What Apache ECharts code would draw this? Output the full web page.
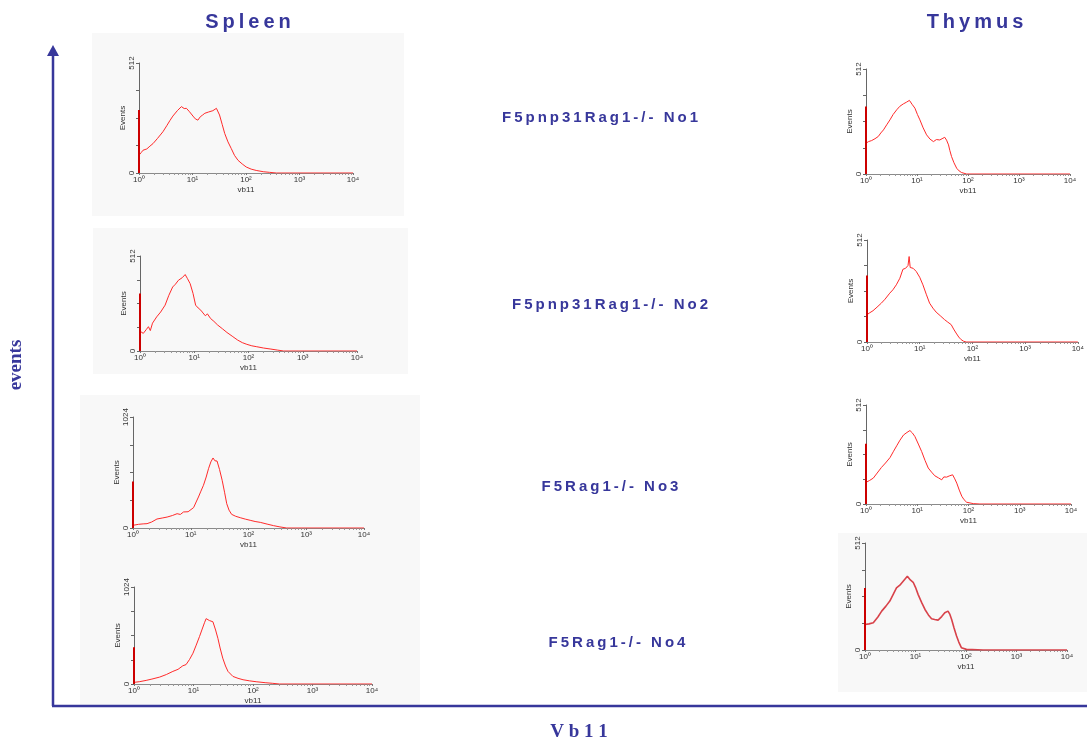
<!DOCTYPE html>
<html>
<head>
<meta charset="utf-8">
<script src="https://cdn.jsdelivr.net/npm/echarts@6/dist/echarts.min.js"></script>
<style>
  html, body { margin: 0; padding: 0; background: #fff; }
  #chart { width: 1087px; height: 744px; }
</style>
</head>
<body>
<div id="chart"></div>
<script>
// histogram traces: [vb11, events]
const spleenNo1 = [[1,83],[1.1,95],[1.19,106],[1.4,112],[1.6,125],[1.83,137],[2.2,160],[2.8,192],[3.3,220],[3.8,245],[4.3,265],[5.2,290],[6.2,309],[7.0,300],[7.7,301],[8.8,285],[10.2,265],[11.3,252],[12.6,246],[14,262],[15.5,270],[17,278],[20,284],[24,290],[28,301],[32,270],[36,225],[40,184],[46,145],[53,114],[61,82],[71,59],[85,42],[101,28],[125,18],[155,12],[210,6],[276,3],[370,0],[10000,0]]
const spleenNo2 = [[1,107],[1.08,98],[1.15,95],[1.3,115],[1.43,131],[1.55,110],[1.7,150],[2.03,184],[2.4,210],[2.9,247],[3.4,300],[4.0,345],[4.5,360],[5.1,381],[6.0,395],[6.8,412],[7.5,390],[8.4,363],[9.5,310],[10.6,247],[11.8,232],[13.2,220],[14.5,205],[16,190],[17.5,200],[20,175],[23,160],[27,140],[33,120],[40,100],[50,80],[63,59],[77,45],[93,36],[115,28],[142,23],[190,16],[250,11],[340,5],[445,0],[10000,0]]
const spleenNo3 = [[1,25],[1.25,34],[1.5,38],[1.75,40],[2.1,55],[2.6,83],[3.2,92],[3.9,101],[4.8,115],[5.8,132],[6.6,125],[7.5,148],[9,150],[11.2,188],[12.4,240],[13.6,286],[15,340],[16.6,394],[18.5,470],[20.3,547],[22.3,610],[24.3,646],[26.2,620],[28.5,618],[31.5,540],[35,440],[38.5,330],[42,224],[46,165],[51,126],[60,108],[72,95],[88,82],[107,71],[130,60],[160,52],[210,36],[270,22],[350,10],[460,0],[10000,0]]
const spleenNo4 = [[1,17],[1.25,25],[1.6,38],[2.0,52],[2.7,73],[3.5,100],[4.5,133],[4.8,150],[5.5,155],[6.6,192],[7.5,205],[8.6,260],[9.8,325],[11.1,410],[12.6,500],[14,580],[15.3,647],[16.3,690],[17.4,692],[18.5,670],[19.8,680],[21.2,657],[23.5,570],[25.7,482],[28,380],[31,273],[34.5,190],[38,133],[46,80],[56,60],[68,45],[88,33],[113,24],[160,14],[215,7],[278,0],[10000,0]]
const thymusNo1 = [[1,150],[1.12,158],[1.29,163],[1.5,172],[1.74,183],[1.95,200],[2.2,215],[2.55,240],[2.95,264],[3.4,290],[4.0,313],[4.6,330],[5.4,342],[6.2,350],[7.1,359],[8.0,340],[9.1,321],[10.2,290],[11.4,264],[13.2,225],[15.4,191],[18,170],[21,158],[24,168],[28,166],[31,172],[35,179],[38,165],[41.5,142],[44,115],[47.6,85],[53,55],[60,28],[67,15],[75,7],[94,0],[10000,0]]
const thymusNo2 = [[1,137],[1.1,145],[1.3,157],[1.55,175],[1.87,195],[2.2,215],[2.7,245],[3.1,262],[3.6,287],[4.2,320],[4.8,365],[5.4,370],[6.0,384],[6.3,429],[6.6,374],[7.5,370],[8.6,354],[10,325],[11.5,287],[13.3,240],[15.4,195],[17.8,170],[20.5,150],[24.5,132],[29.7,112],[34,100],[39.6,87],[44,65],[49,45],[55,25],[61,12],[68,4],[76,0],[10000,0]]
const thymusNo3 = [[1,112],[1.18,122],[1.39,134],[1.65,160],[2.0,189],[2.4,212],[2.94,240],[3.4,270],[3.97,301],[4.6,330],[5.4,357],[6.3,370],[7.2,380],[8.0,368],[9.0,349],[10.5,310],[12.2,271],[14.2,225],[16.4,186],[19,165],[22,146],[26,135],[30,125],[33,140],[37.5,139],[42,145],[49,151],[54,130],[59,108],[66,72],[74,40],[82,22],[92,9],[124,2],[167,0],[10000,0]]
const thymusNo4 = [[1,122],[1.2,125],[1.46,130],[1.8,158],[2.14,186],[2.6,210],[3.1,234],[3.6,265],[4.2,297],[4.9,310],[5.7,329],[6.9,353],[7.9,335],[9.0,324],[10,300],[11.3,265],[13.2,228],[15.4,194],[18,168],[20.8,150],[24,146],[28,143],[33,160],[38,178],[44,186],[48,170],[52,146],[58,105],[65,67],[72,38],[81,11],[102,3],[219,0],[10000,0]]

// events piled up in the first channel (the tall red bar at 10^0)
const spleenSpikes = [293, 310, 430, 388]
const thymusSpikes = [329, 334, 311, 297]
const spleenMax = [512, 512, 1024, 1024]
const thymusMax = [512, 512, 512, 512]

const rowLabels = ['F5pnp31Rag1-/- No1', 'F5pnp31Rag1-/- No2', 'F5Rag1-/- No3', 'F5Rag1-/- No4']
const sup = ['\u2070', '\u00b9', '\u00b2', '\u00b3', '\u2074']

// panel placement
const panels = [
  { data: spleenNo1, spike: spleenSpikes[0], max: spleenMax[0], left: 139, top: 63, width: 214, height: 110 },
  { data: spleenNo2, spike: spleenSpikes[1], max: spleenMax[1], left: 140, top: 256, width: 217, height: 95 },
  { data: spleenNo3, spike: spleenSpikes[2], max: spleenMax[2], left: 133, top: 417, width: 231, height: 111 },
  { data: spleenNo4, spike: spleenSpikes[3], max: spleenMax[3], left: 134, top: 587, width: 238, height: 97 },
  { data: thymusNo1, spike: thymusSpikes[0], max: thymusMax[0], left: 866, top: 69, width: 204, height: 105 },
  { data: thymusNo2, spike: thymusSpikes[1], max: thymusMax[1], left: 867, top: 240, width: 211, height: 102 },
  { data: thymusNo3, spike: thymusSpikes[2], max: thymusMax[2], left: 866, top: 405, width: 205, height: 99 },
  { data: thymusNo4, spike: thymusSpikes[3], max: thymusMax[3], left: 865, top: 543, width: 202, height: 107, blur: true },
]

const rowLabelPos = [[600, 118], [610, 305], [610, 487], [617, 643]]
const blue = '#37379b'
const spaced = (s, sep) => s.split('').join(sep)

const grid = [], xAxis = [], yAxis = [], series = []
panels.forEach((p, i) => {
  grid.push({ left: p.left, top: p.top, width: p.width, height: p.height, containLabel: false })
  xAxis.push({
    gridIndex: i, type: 'log', logBase: 10, min: 1, max: 10000,
    name: 'vb11', nameLocation: 'middle', nameGap: 13,
    nameTextStyle: { fontSize: 8, color: '#333', fontFamily: 'Liberation Sans' },
    axisLine: { lineStyle: { color: '#8a8a8a', width: 1 } },
    axisTick: { length: 2, lineStyle: { color: '#777' } },
    minorTick: { show: true, splitNumber: 10, length: 2, lineStyle: { color: '#999' } },
    splitLine: { show: false },
    axisLabel: { fontSize: 8, color: '#333', margin: 3, fontFamily: 'Liberation Sans',
      formatter: v => '10' + sup[Math.round(Math.log10(v))] }
  })
  yAxis.push({
    gridIndex: i, type: 'value', min: 0, max: p.max, interval: p.max / 4,
    name: 'Events', nameLocation: 'middle', nameGap: 12, nameRotate: 90,
    nameTextStyle: { fontSize: 8, color: '#333', fontFamily: 'Liberation Sans' },
    axisLine: { show: true, lineStyle: { color: '#666', width: 1 } },
    axisTick: { show: true, length: 3, lineStyle: { color: '#666' } },
    splitLine: { show: false },
    axisLabel: { rotate: 90, fontSize: 8, color: '#333', margin: 3, fontFamily: 'Liberation Sans',
      formatter: v => (v === 0 || v === p.max) ? String(v) : '' }
  })
  series.push({
    type: 'line', xAxisIndex: i, yAxisIndex: i, data: p.data, showSymbol: false,
    lineStyle: { color: p.blur ? '#d8424a' : '#ff2a2a', width: p.blur ? 1.6 : 1 },
    animation: false, z: 3
  })
  series.push({
    type: 'line', xAxisIndex: i, yAxisIndex: i, data: [[1, 0], [1, p.spike]], showSymbol: false,
    lineStyle: { color: '#cc0000', width: 2 }, animation: false, z: 4
  })
})

const bgRects = [[92, 33, 312, 183], [93, 228, 315, 146], [80, 395, 340, 165], [80, 560, 340, 145], [838, 533, 249, 159]]

const graphic = []
bgRects.forEach(r => graphic.push({
  type: 'rect', z: -10, shape: { x: r[0], y: r[1], width: r[2], height: r[3] }, style: { fill: '#f8f8f8' }
}))
graphic.push(
  { type: 'line', shape: { x1: 53, y1: 706, x2: 53, y2: 52 }, style: { stroke: blue, lineWidth: 2.5 } },
  { type: 'polygon', shape: { points: [[53, 45], [47, 56], [59, 56]] }, style: { fill: blue } },
  { type: 'line', shape: { x1: 52, y1: 706, x2: 1087, y2: 706 }, style: { stroke: blue, lineWidth: 2.5 } },
  { type: 'text', x: 248, y: 22, style: { text: spaced('Spleen', '\u2009'), fill: blue, font: 'bold 20px "Liberation Sans"', textAlign: 'center', textVerticalAlign: 'middle' } },
  { type: 'text', x: 975, y: 22, style: { text: spaced('Thymus', '\u2009'), fill: blue, font: 'bold 20px "Liberation Sans"', textAlign: 'center', textVerticalAlign: 'middle' } },
  { type: 'text', x: 579, y: 732, style: { text: spaced('Vb11', ' '), fill: blue, font: 'bold 19px "Liberation Serif"', textAlign: 'center', textVerticalAlign: 'middle' } },
  { type: 'text', x: 16, y: 365, rotation: Math.PI / 2, style: { text: 'events', fill: blue, font: 'bold 19px "Liberation Serif"', textAlign: 'center', textVerticalAlign: 'middle' } }
)
rowLabels.forEach((t, i) => graphic.push({
  type: 'text', x: rowLabelPos[i][0], y: rowLabelPos[i][1],
  style: { text: spaced(t, '\u2009'), fill: blue, font: 'bold 15px "Liberation Sans"', textAlign: 'center', textVerticalAlign: 'middle' }
}))

const chart = echarts.init(document.getElementById('chart'), null, { renderer: 'canvas' })
chart.setOption({ animation: false, backgroundColor: '#fff', grid, xAxis, yAxis, series, graphic })
</script>
</body>
</html>
